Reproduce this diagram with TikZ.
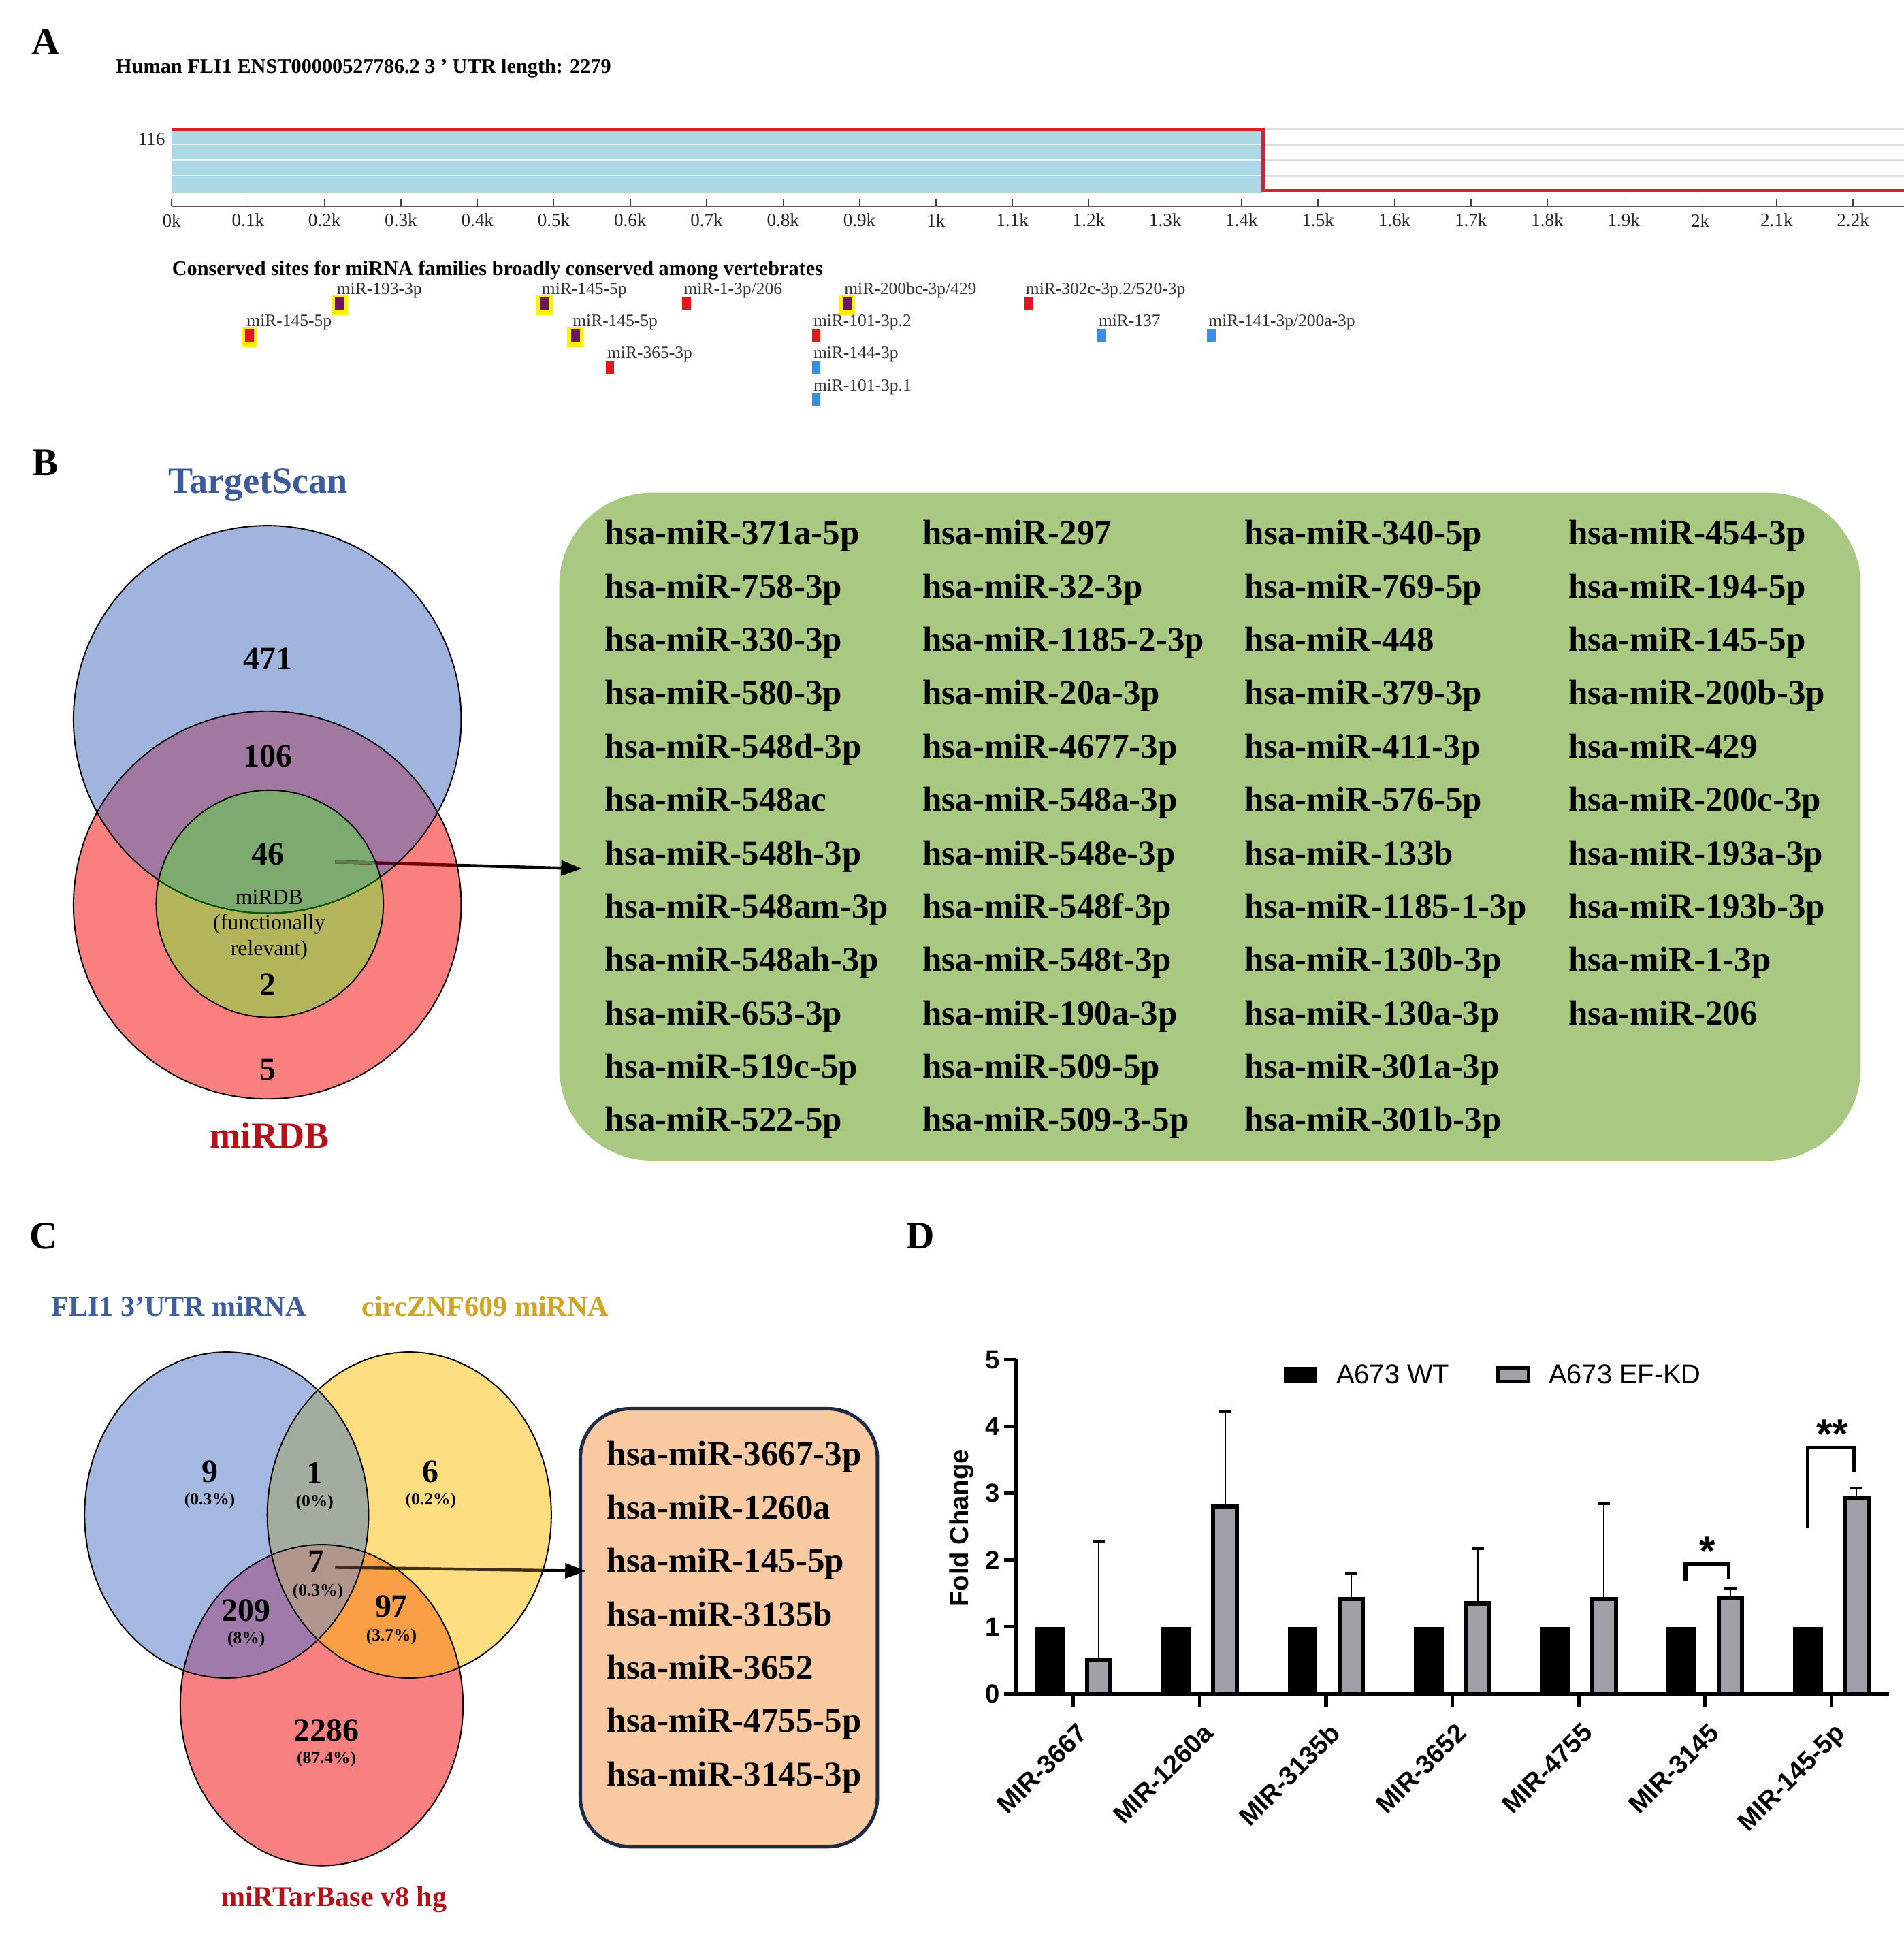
\documentclass[tikz,border=0pt]{standalone}
\usepackage{fontspec}
\setmainfont{Liberation Serif}
\newfontfamily\arialf{Liberation Sans}
\usetikzlibrary{arrows.meta}
\newcommand{\mysl}{/}
\definecolor{abluefill}{HTML}{ADD8E6}
\definecolor{ared}{HTML}{DD1F26}
\definecolor{mred}{HTML}{E3161C}
\definecolor{mpurp}{HTML}{6C165F}
\definecolor{mblue}{HTML}{3A8DE4}
\definecolor{myel}{HTML}{FFF200}
\definecolor{tsblue}{HTML}{3D5B99}
\definecolor{dbred}{HTML}{B3121B}
\definecolor{bB}{HTML}{A0B4DE}
\definecolor{bR}{HTML}{FA8080}
\definecolor{bP}{HTML}{A078A0}
\definecolor{bG}{HTML}{7DAA6E}
\definecolor{bO}{HTML}{B4B45A}
\definecolor{gboxc}{HTML}{A9C982}
\definecolor{cB}{HTML}{A4B8E2}
\definecolor{cY}{HTML}{FCDE80}
\definecolor{cR}{HTML}{F88080}
\definecolor{cBY}{HTML}{A3AD9F}
\definecolor{cBR}{HTML}{A07AAA}
\definecolor{cYR}{HTML}{FA9F46}
\definecolor{cBYR}{HTML}{B0968C}
\definecolor{peach}{HTML}{F9C9A2}
\definecolor{navy}{HTML}{1E2B45}
\definecolor{fliblue}{HTML}{3F5E9E}
\definecolor{circgold}{HTML}{CFA526}
\definecolor{barg}{HTML}{A0A0A6}
\tikzset{
 plab/.style={font=\fontsize{18}{18}\selectfont\bfseries, inner sep=0},
 ttlA/.style={font=\fontsize{9.5}{9.5}\selectfont\bfseries, inner sep=0, anchor=base west},
 tickA/.style={font=\fontsize{8.5}{8.5}\selectfont, inner sep=0, text=black!85},
 mirA/.style={font=\fontsize{8}{8}\selectfont, inner sep=0, anchor=base west, text=black!80},
 listT/.style={font=\fontsize{16}{16}\selectfont\bfseries, inner sep=0, anchor=base west},
 vnum/.style={font=\fontsize{15}{15}\selectfont\bfseries, inner sep=0},
 vpct/.style={font=\fontsize{8}{8}\selectfont\bfseries, inner sep=0},
 setlab/.style={font=\fontsize{17}{17}\selectfont\bfseries, inner sep=0},
 setlabC/.style={font=\fontsize{13.2}{13.2}\selectfont\bfseries, inner sep=0},
 outl/.style={draw=black, line width=0.6pt},
 bigarr/.style={line width=1.4pt, -{Triangle[length=0.34cm, width=0.24cm]}},
 dlab/.style={font=\arialf\bfseries\fontsize{12}{12}\selectfont, inner sep=0},
 dleg/.style={font=\arialf\fontsize{12.5}{12.5}\selectfont, inner sep=0, anchor=west},
 axl/.style={line width=1.6pt},
 brk/.style={line width=1.7pt},
 star/.style={font=\arialf\bfseries\fontsize{19}{19}\selectfont, inner sep=0, anchor=base},
}
\begin{document}
\begin{tikzpicture}[x=0.02cm, y=-0.02cm]
\useasboundingbox (0,0) rectangle (1542,1568);
\fill[white] (0,0) rectangle (1542,1568);

% ================= Panel A =================
\node[plab] (LA) at (37,34) {A};
\node[ttlA] (tA) at (93.5,59) {Human FLI1 ENST00000527786.2 3 ' UTR length: 2279};
\fill[abluefill] (139,105) rectangle (1023,156);
\foreach \yy in {117.1,129.7,142.4}{
  \draw[white!75!abluefill, line width=0.6pt] (139,\yy) -- (1023,\yy);
  \draw[black!13, line width=0.8pt] (1023,\yy) -- (1542,\yy);
}
\draw[black!13, line width=0.8pt] (1023,104.4) -- (1542,104.4);
\draw[ared, line width=1.7pt] (139,105) -- (1023,105) -- (1023,154) -- (1542,154);
\node[tickA, anchor=east] (n116) at (134,113) {116};
\draw[black!65, line width=0.8pt] (139,167) -- (1542,167);
\foreach \i/\lab in {0/0k,1/0.1k,2/0.2k,3/0.3k,4/0.4k,5/0.5k,6/0.6k,7/0.7k,8/0.8k,9/0.9k,10/1k,11/1.1k,12/1.2k,13/1.3k,14/1.4k,15/1.5k,16/1.6k,17/1.7k,18/1.8k,19/1.9k,20/2k,21/2.1k,22/2.2k}{
  \draw[black!75, line width=0.5pt] ({139+61.9*\i},161) -- ({139+61.9*\i},167);
  \node[tickA] (tk\i) at ({139+61.9*\i},178.5) {\lab};
}
\node[ttlA] (cons) at (139,223) {Conserved sites for miRNA families broadly conserved among vertebrates};
\foreach \mx/\r/\hl/\col/\lab [count=\n] in {
  275/0/1/mpurp/miR-193-3p, 441/0/1/mpurp/miR-145-5p, 556/0/0/mred/miR-1-3p\mysl 206,
  686/0/1/mpurp/miR-200bc-3p\mysl 429, 833/0/0/mred/miR-302c-3p.2\mysl 520-3p,
  202/1/1/mred/miR-145-5p, 466/1/1/mpurp/miR-145-5p, 661/1/0/mred/miR-101-3p.2,
  892/1/0/mblue/miR-137, 981/1/0/mblue/miR-141-3p\mysl 200a-3p,
  494/2/0/mred/miR-365-3p, 661/2/0/mblue/miR-144-3p, 661/3/0/mblue/miR-101-3p.1}{
  \pgfmathsetmacro\by{238.5+26*\r}
  \ifnum\hl=1 \fill[myel] (\mx-6.5,\by+0.5) rectangle (\mx+6.5,\by+16.5); \fi
  \fill[\col] (\mx-3.5,\by+2) rectangle (\mx+3.5,\by+12.5);
  \node[mirA] (ml\n) at (\mx-2.5,\by) {\lab};
}

% ================= Panel B =================
\node[plab] (LB) at (36.5,375) {B};
\node[setlab, text=tsblue] (TS) at (209,393) {TargetScan};
\coordinate (bc) at (216.5,582.7);
\coordinate (rc) at (216.5,733);
\coordinate (gc) at (218.5,732);
\coordinate (bs) at (271.5,698);
\coordinate (be) at (471.5,703.5);
\fill[gboxc, rounded corners=1.5cm] (453,399) rectangle (1507,940);
\draw[bigarr] (bs) -- (be);
\fill[bB] (bc) circle (157);
\fill[bR] (rc) circle (157);
\begin{scope}\clip (bc) circle (157); \fill[bP] (rc) circle (157);\end{scope}
\fill[bO] (gc) circle (92);
\begin{scope}\clip (bc) circle (157); \fill[bG] (gc) circle (92);\end{scope}
\begin{scope}\clip (rc) circle (157); \draw[line width=1.4pt, color=black!55!red] (bs) -- (be);\end{scope}
\begin{scope}\clip (bc) circle (157); \clip (rc) circle (157); \draw[line width=1.4pt, color=black!55!purple] (bs) -- (be);\end{scope}
\begin{scope}\clip (gc) circle (92); \draw[line width=1.4pt, color=bG!75!black] (bs) -- (be);\end{scope}
\draw[outl] (bc) circle (157);
\draw[outl] (rc) circle (157);
\begin{scope}\clip (gc) circle (92); \draw[line width=0.6pt, color=green!35!black] (bc) circle (157);\end{scope}
\draw[outl] (gc) circle (92);
\node[vnum] (n471) at (216.8,533.8) {471};
\node[vnum] (n106) at (216.8,612.4) {106};
\node[vnum] (n46) at (216.8,691.8) {46};
\node[font=\fontsize{10}{11.8}\selectfont, align=center, inner sep=0] (fr) at (218,749) {miRDB\\(functionally\\relevant)};
\node[vnum] (n2) at (216.8,797.8) {2};
\node[vnum] (n5) at (216.8,866) {5};
\node[setlab, text=dbred] (MD) at (218.4,919.6) {miRDB};
\foreach \t [count=\i from 0] in {hsa-miR-371a-5p,hsa-miR-758-3p,hsa-miR-330-3p,hsa-miR-580-3p,hsa-miR-548d-3p,hsa-miR-548ac,hsa-miR-548h-3p,hsa-miR-548am-3p,hsa-miR-548ah-3p,hsa-miR-653-3p,hsa-miR-519c-5p,hsa-miR-522-5p}
  {\node[listT] (ba\i) at (489.7,{441+43.2*\i}) {\t};}
\foreach \t [count=\i from 0] in {hsa-miR-297,hsa-miR-32-3p,hsa-miR-1185-2-3p,hsa-miR-20a-3p,hsa-miR-4677-3p,hsa-miR-548a-3p,hsa-miR-548e-3p,hsa-miR-548f-3p,hsa-miR-548t-3p,hsa-miR-190a-3p,hsa-miR-509-5p,hsa-miR-509-3-5p}
  {\node[listT] (bb\i) at (747,{441+43.2*\i}) {\t};}
\foreach \t [count=\i from 0] in {hsa-miR-340-5p,hsa-miR-769-5p,hsa-miR-448,hsa-miR-379-3p,hsa-miR-411-3p,hsa-miR-576-5p,hsa-miR-133b,hsa-miR-1185-1-3p,hsa-miR-130b-3p,hsa-miR-130a-3p,hsa-miR-301a-3p,hsa-miR-301b-3p}
  {\node[listT] (bc\i) at (1008,{441+43.2*\i}) {\t};}
\foreach \t [count=\i from 0] in {hsa-miR-454-3p,hsa-miR-194-5p,hsa-miR-145-5p,hsa-miR-200b-3p,hsa-miR-429,hsa-miR-200c-3p,hsa-miR-193a-3p,hsa-miR-193b-3p,hsa-miR-1-3p,hsa-miR-206}
  {\node[listT] (bd\i) at (1270,{441+43.2*\i}) {\t};}

% ================= Panel C =================
\node[plab] (LC) at (35.6,1001) {C};
\node[setlabC, text=fliblue] (FL) at (144.8,1057.8) {FLI1 3’UTR miRNA};
\node[setlabC, text=circgold] (CZ) at (393,1057.8) {circZNF609 miRNA};
\node[setlabC, text=dbred] (MT) at (270.5,1538.7) {miRTarBase v8 hg};
\coordinate (ebl) at (183.5,1227);
\coordinate (eye) at (331.5,1227);
\coordinate (ere) at (260.5,1381);
\coordinate (cs) at (271.5,1269.4);
\coordinate (ce) at (474.7,1272.4);
\fill[peach, draw=navy, line width=1.6pt, rounded corners=0.8cm] (470,1141) rectangle (710.6,1495.6);
\draw[bigarr] (cs) -- (ce);
\fill[cB] (ebl) ellipse [x radius=115, y radius=132];
\fill[cY] (eye) ellipse [x radius=115, y radius=132];
\fill[cR] (ere) ellipse [x radius=114.5, y radius=130];
\begin{scope}\clip (ebl) ellipse [x radius=115, y radius=132]; \fill[cBY] (eye) ellipse [x radius=115, y radius=132];\end{scope}
\begin{scope}\clip (ebl) ellipse [x radius=115, y radius=132]; \fill[cBR] (ere) ellipse [x radius=114.5, y radius=130];\end{scope}
\begin{scope}\clip (eye) ellipse [x radius=115, y radius=132]; \fill[cYR] (ere) ellipse [x radius=114.5, y radius=130];\end{scope}
\begin{scope}\clip (ebl) ellipse [x radius=115, y radius=132]; \clip (eye) ellipse [x radius=115, y radius=132]; \fill[cBYR] (ere) ellipse [x radius=114.5, y radius=130];\end{scope}
\begin{scope}\clip (eye) ellipse [x radius=115, y radius=132]; \draw[line width=1.4pt, color=black!65!brown] (cs) -- (ce);\end{scope}
\draw[outl] (ebl) ellipse [x radius=115, y radius=132];
\draw[outl] (eye) ellipse [x radius=115, y radius=132];
\draw[outl] (ere) ellipse [x radius=114.5, y radius=130];
\node[vnum] (c9) at (169.9,1191.7) {9};
\node[vpct] (p9) at (169.9,1215.6) {(0.3\%)};
\node[vnum] (c1) at (254.9,1193) {1};
\node[vpct] (p1) at (254.9,1217) {(0\%)};
\node[vnum] (c6) at (348.9,1191.7) {6};
\node[vpct] (p6) at (348.9,1215.6) {(0.2\%)};
\node[vnum] (c7) at (256,1264.7) {7};
\node[vpct] (p7) at (257.5,1289) {(0.3\%)};
\node[vnum] (c209) at (199.4,1304.4) {209};
\node[vpct] (p209) at (199.4,1328) {(8\%)};
\node[vnum] (c97) at (317,1301) {97};
\node[vpct] (p97) at (317,1325.6) {(3.7\%)};
\node[vnum] (c2286) at (264.4,1401.4) {2286};
\node[vpct] (p2286) at (264.4,1425) {(87.4\%)};
\foreach \t [count=\i from 0] in {hsa-miR-3667-3p,hsa-miR-1260a,hsa-miR-145-5p,hsa-miR-3135b,hsa-miR-3652,hsa-miR-4755-5p,hsa-miR-3145-3p}
  {\node[listT] (cl\i) at (491.3,{1187+43.2*\i}) {\t};}

% ================= Panel D =================
\node[plab] (LD) at (745.6,1001) {D};
\foreach \i/\g/\e/\nm in {0/0.5/2.27/MIR-3667, 1/2.8/4.23/MIR-1260a, 2/1.42/1.8/MIR-3135b, 3/1.35/2.17/MIR-3652, 4/1.42/2.84/MIR-4755, 5/1.43/1.57/MIR-3145, 6/2.92/3.08/MIR-145-5p}{
  \pgfmathsetmacro\tx{869.4+102.3*\i}
  \pgfmathsetmacro\yg{1371.7-54.1*\g}
  \pgfmathsetmacro\ye{1371.7-54.1*\e}
  \fill[black] (\tx-31,1317.6) rectangle (\tx-7,1371.7);
  \draw[line width=0.6pt] (\tx+20.5,\yg) -- (\tx+20.5,\ye);
  \draw[line width=1.2pt] (\tx+15.5,\ye) -- (\tx+25.5,\ye);
  \filldraw[fill=barg, draw=black, line width=1.9pt] (\tx+11,\yg) rectangle (\tx+30,1371.7);
  \draw[axl] (\tx,1371.7) -- (\tx,1383);
  \node[dlab, rotate=45, anchor=north east] (xl\i) at (\tx+2,1394) {\nm};
}
\draw[axl] (823,1101) -- (823,1372.5);
\draw[axl] (813,1371.7) -- (1530,1371.7);
\foreach \v in {0,...,5}{
  \draw[axl] (813,{1371.7-54.1*\v}) -- (823,{1371.7-54.1*\v});
  \node[dlab, anchor=east] (yl\v) at (810,{1371.7-54.1*\v}) {\v};
}
\node[dlab, rotate=90] (FC) at (778.8,1237.7) {Fold Change};
\fill[black] (1040,1107) rectangle (1067,1120);
\node[dleg] (lg1) at (1082,1113) {A673 WT};
\filldraw[fill=barg, draw=black, line width=1.5pt] (1213,1108) rectangle (1238,1119);
\node[dleg] (lg2) at (1254,1113) {A673 EF-KD};
\draw[brk] (1365,1280) -- (1365,1266.5) -- (1400,1266.5) -- (1400,1279);
\node[star] (s1) at (1383,1268) {*};
\draw[brk] (1464,1237.7) -- (1464,1172.5) -- (1501.5,1172.5) -- (1501.5,1192);
\node[star] (s2) at (1484,1173) {**};
\end{tikzpicture}
\end{document}
